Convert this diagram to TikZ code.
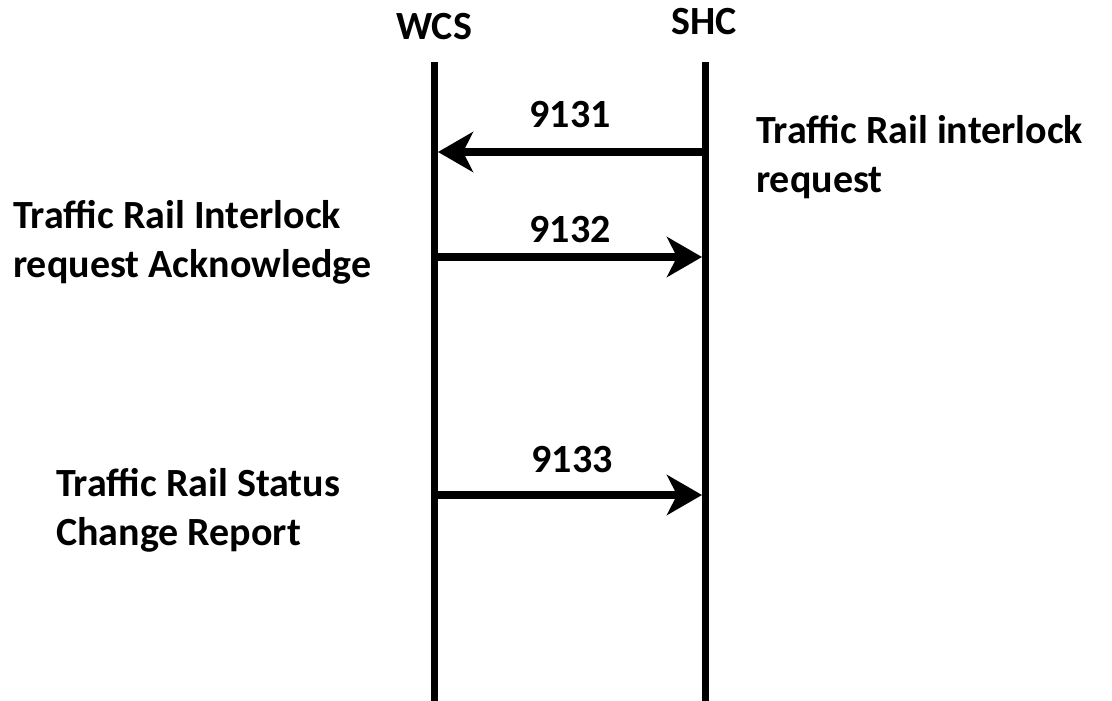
\documentclass[tikz,border=0pt]{standalone}
\usepackage{fontspec}
\setmainfont{Carlito}
\usetikzlibrary{arrows.meta}
\tikzset{
  lbl/.style={font=\fontsize{40}{49}\selectfont\bfseries, inner sep=0pt, align=left},
  lifeline/.style={line width=7pt},
  msg/.style={line width=7.5pt, -{Stealth[length=35pt, width=40pt, inset=10pt]}, shorten >=3.5pt}
}
\begin{document}
\begin{tikzpicture}[x=1pt, y=-1pt]
\useasboundingbox (0,0) rectangle (1112,701);
% lifelines
\coordinate (wtop) at (434.5,62);
\coordinate (wbot) at (434.5,701);
\coordinate (stop) at (705.5,62);
\coordinate (sbot) at (705.5,701);
\draw[lifeline] (wtop) -- (wbot);
\draw[lifeline] (stop) -- (sbot);
% headers
\node[lbl, anchor=base] (wcs) at (434,40) {WCS};
\node[lbl, anchor=base] (shc) at (704,35) {SHC};
% messages
\coordinate (s1) at (705.5,152);
\coordinate (w1) at (434.5,152);
\coordinate (w2) at (434.5,257);
\coordinate (s2) at (705.5,257);
\coordinate (w3) at (434.5,495);
\coordinate (s3) at (705.5,495);
\draw[msg] (s1) -- (w1);
\draw[msg] (w2) -- (s2);
\draw[msg] (w3) -- (s3);
\node[lbl, anchor=base] (m1) at (570,128) {9131};
\node[lbl, anchor=base] (m2) at (570,242) {9132};
\node[lbl, anchor=base] (m3) at (572,472) {9133};
% descriptions (base anchor = baseline of the last line)
\node[lbl, anchor=base west] (d1) at (756,192) {Traffic Rail interlock\\request};
\node[lbl, anchor=base west] (d2) at (13,277) {Traffic Rail Interlock\\request Acknowledge};
\node[lbl, anchor=base west] (d3) at (56,545) {Traffic Rail Status\\Change Report};
\end{tikzpicture}
\end{document}
